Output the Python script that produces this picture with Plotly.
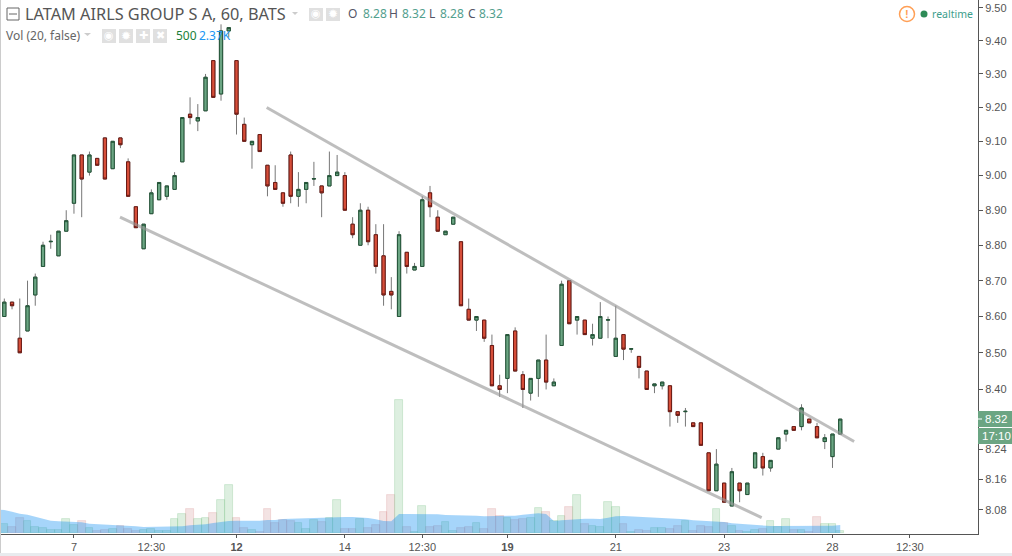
import plotly.graph_objects as go

# ---------- data ----------
opens = [8.60,8.64,8.54,8.56,8.66,8.74,8.81,8.77,8.84,8.92,9.06,9.01,9.05,9.11,9.02,9.11,9.04,8.91,8.79,8.89,
         8.93,8.94,8.96,9.04,9.18,9.16,9.19,9.34,9.24,9.43,9.34,9.15,9.09,9.12,9.03,8.98,8.95,9.06,8.94,8.96,
         8.99,8.97,8.97,9.00,9.00,8.86,8.80,8.90,8.83,8.77,8.67,8.60,8.78,8.73,8.74,8.95,8.88,8.83,8.86,8.81,
         8.62,8.59,8.59,8.52,8.41,8.43,8.56,8.44,8.39,8.43,8.48,8.41,8.52,8.70,8.59,8.59,8.54,8.54,8.59,8.49,
         8.55,8.51,8.49,8.45,8.41,8.41,8.41,8.34,8.34,8.31,8.31,8.23,8.13,8.15,8.09,8.15,8.12,8.19,8.22,8.19,
         8.24,8.28,8.30,8.30,8.32,8.30,8.26,8.22,8.28]
closes = [8.64,8.63,8.50,8.63,8.71,8.80,8.811,8.84,8.87,9.06,8.99,9.06,9.03,8.99,9.10,9.09,8.94,8.85,8.86,8.95,
          8.98,8.97,9.00,9.17,9.17,9.17,9.29,9.23,9.43,9.44,9.18,9.10,9.10,9.07,8.97,8.96,8.92,8.94,8.96,8.98,
          8.991,8.95,9.00,9.01,8.90,8.83,8.90,8.81,8.74,8.66,8.66,8.83,8.74,8.74,8.93,8.91,8.84,8.84,8.88,8.63,
          8.59,8.60,8.54,8.41,8.40,8.55,8.45,8.40,8.43,8.48,8.42,8.42,8.69,8.58,8.60,8.55,8.55,8.60,8.591,8.54,
          8.51,8.511,8.46,8.40,8.415,8.42,8.34,8.33,8.341,8.30,8.25,8.13,8.20,8.10,8.18,8.13,8.15,8.23,8.19,8.21,
          8.27,8.29,8.29,8.35,8.31,8.27,8.27,8.28,8.32]
highs = [8.65,8.64,8.65,8.70,8.72,8.81,8.83,8.84,8.90,9.06,9.06,9.07,9.05,9.11,9.10,9.11,9.05,8.91,8.86,8.96,
         8.98,8.97,9.01,9.17,9.23,9.21,9.30,9.34,9.45,9.44,9.34,9.17,9.10,9.12,9.03,9.03,8.95,9.07,9.01,8.98,
         9.04,8.97,9.07,9.06,9.01,8.88,8.92,8.91,8.86,8.86,8.71,8.84,8.78,8.75,8.94,8.97,8.90,8.84,8.88,8.81,
         8.65,8.60,8.59,8.55,8.44,8.55,8.57,8.45,8.43,8.48,8.55,8.43,8.70,8.70,8.60,8.59,8.58,8.64,8.60,8.63,
         8.55,8.511,8.49,8.45,8.415,8.42,8.41,8.34,8.35,8.31,8.31,8.23,8.24,8.15,8.19,8.15,8.15,8.23,8.23,8.21,
         8.27,8.29,8.30,8.36,8.32,8.31,8.28,8.28,8.32]
lows = [8.60,8.62,8.50,8.56,8.63,8.74,8.79,8.77,8.84,8.89,8.88,9.00,9.03,8.99,9.02,9.08,8.94,8.85,8.79,8.89,
        8.93,8.93,8.96,9.04,9.15,9.13,9.19,9.23,9.22,9.41,9.12,9.10,9.02,9.07,8.94,8.96,8.91,8.92,8.91,8.92,
        8.97,8.88,8.97,9.00,8.90,8.82,8.80,8.80,8.72,8.63,8.62,8.60,8.72,8.73,8.74,8.88,8.84,8.83,8.86,8.63,
        8.59,8.56,8.53,8.41,8.38,8.39,8.45,8.35,8.37,8.38,8.40,8.41,8.52,8.58,8.55,8.55,8.52,8.54,8.54,8.49,
        8.48,8.50,8.43,8.40,8.39,8.40,8.30,8.31,8.30,8.30,8.25,8.13,8.13,8.10,8.09,8.10,8.12,8.19,8.17,8.18,
        8.24,8.26,8.29,8.29,8.31,8.27,8.24,8.19,8.28]
# volume, in thousands
volumes = [2.6,1.7,4.4,3.5,1.7,1.4,0.8,0.8,4.1,2.3,3.5,1.4,0.5,0.8,1.1,2.0,1.1,0.5,0.8,1.1,
           0.5,0.5,4.1,5.6,7.1,4.1,4.4,5.9,9.8,14.3,4.4,1.4,0.8,0.2,7.1,2.9,3.8,3.5,2.9,1.1,
           3.8,3.2,4.4,9.8,1.1,1.1,4.1,1.4,2.3,6.2,11.3,39.9,1.7,0.2,8.0,1.7,2.0,3.2,0.5,1.4,
           1.7,2.9,1.1,7.1,5.0,4.4,3.8,4.1,4.4,7.4,6.2,3.5,5.0,7.7,11.3,2.6,2.0,1.7,9.2,7.7,
           2.6,0.2,0.8,0.5,1.4,1.4,1.1,2.0,3.5,0.5,2.0,1.7,7.1,2.9,2.0,0.5,0.2,0.8,1.1,3.5,
           1.7,4.1,0.8,0.8,0.2,4.7,2.6,2.6,0.5]
# 20-period volume average, in thousands (one reading per bar, plus the left edge)
volume_avg = [7.0,6.9,6.4,5.8,5.5,4.9,4.4,3.7,3.5,3.4,3.4,3.2,2.8,2.7,2.5,2.3,2.3,2.2,2.0,1.8,1.8,
              1.8,1.8,1.9,2.0,2.3,2.4,2.6,3.0,3.4,3.6,3.7,3.7,3.6,3.7,3.9,3.9,4.2,4.3,4.4,4.4,
              4.5,4.6,4.7,4.8,4.8,4.8,4.7,4.5,4.1,3.6,3.5,5.7,5.7,5.7,5.7,5.7,5.6,5.4,5.4,5.4,
              5.4,5.2,5.0,5.0,5.0,5.1,5.2,5.5,5.8,5.9,5.7,3.6,3.8,4.0,4.3,4.3,4.3,4.2,4.6,5.0,
              5.1,5.0,4.9,4.7,4.5,4.4,4.3,4.3,4.1,3.8,3.7,3.5,3.6,3.3,2.9,2.7,2.6,2.5,2.3,2.1,
              2.1,2.1,2.0,2.0,2.0,2.2,2.2,2.2,2.37]
tick_positions = [9,19,30,44,54,65,79,93,107,117]
tick_labels = ["7","12:30","<b>12</b>","14","12:30","<b>19</b>","21","23","28","12:30"]
price_ticks = [9.5,9.4,9.3,9.2,9.1,9.0,8.9,8.8,8.7,8.6,8.5,8.4,8.24,8.16,8.08]
upper_line_x = [33.9,109.8]
upper_line_price = [9.20,8.26]
lower_line_x = [14.95,97.85]
lower_line_price = [8.88,8.06]
ticker = "LATAM AIRLS GROUP S A, 60, BATS"

# ---------- styles ----------
GREEN, GREEN_EDGE = "#6BA583", "#225437"
RED, RED_EDGE = "#D64E39", "#6B1A14"
TXT = "#555555"
BODY_FONT = "Liberation Sans"
HEAD_FONT = "Noto Sans"
index = list(range(len(opens)))
rising = [c >= o for o, c in zip(opens, closes)]

fig = go.Figure()
fig.add_bar(x=index, y=volumes, width=1.0, yaxis="y", showlegend=False, hoverinfo="skip",
            marker=dict(color=["rgba(120,190,130,0.25)" if r else "rgba(190,100,100,0.18)" for r in rising],
                        line=dict(width=0.8, color=["rgba(120,190,130,0.35)" if r else "rgba(200,90,90,0.22)" for r in rising])))
fig.add_scatter(x=[-0.56] + index, y=volume_avg, yaxis="y", mode="lines", fill="tozeroy",
                fillcolor="rgba(33,150,243,0.4)", line=dict(width=0), showlegend=False, hoverinfo="skip")
# wicks
fig.add_candlestick(x=index, open=opens, high=highs, low=lows, close=closes, yaxis="y2", showlegend=False,
                    whiskerwidth=0, hoverinfo="skip",
                    increasing=dict(line=dict(color="#777777", width=1), fillcolor=GREEN),
                    decreasing=dict(line=dict(color="#777777", width=1), fillcolor=RED))
# bodies
fig.add_candlestick(x=index, open=opens, close=closes, yaxis="y2", showlegend=False,
                    high=[max(o, c) for o, c in zip(opens, closes)],
                    low=[min(o, c) for o, c in zip(opens, closes)],
                    whiskerwidth=0,
                    increasing=dict(line=dict(color=GREEN_EDGE, width=1), fillcolor=GREEN),
                    decreasing=dict(line=dict(color=RED_EDGE, width=1), fillcolor=RED))
for xs, ys in ((upper_line_x, upper_line_price), (lower_line_x, lower_line_price)):
    fig.add_scatter(x=xs, y=ys, yaxis="y2", mode="lines", showlegend=False, hoverinfo="skip",
                    line=dict(color="rgba(150,150,150,0.62)", width=3))


# paper coordinates are relative to the 978x534 plot area
def px(x):
    return x / 978


def py(y):
    return 1 - y / 534


def text(x, y, s, size, color, font=HEAD_FONT, anchor="left"):
    return dict(xref="paper", yref="paper", x=px(x), y=py(y), text=s, showarrow=False, xanchor=anchor,
                yanchor="middle", font=dict(size=size, color=color, family=font), borderpad=0, borderwidth=0)


def box(x0, y0, x1, y1, color):
    return dict(type="rect", xref="paper", yref="paper", x0=px(x0), x1=px(x1), y0=py(y1), y1=py(y0),
                fillcolor=color, line=dict(width=0))


def tri(x0, x1, y0, y1):
    xm = (x0 + x1) / 2
    return dict(type="path", xref="paper", yref="paper", fillcolor="#cccccc", line=dict(width=0),
                path=f"M{px(x0)},{py(y0)} L{px(x1)},{py(y0)} L{px(xm)},{py(y1)} Z")


ICON = "#e0e0e0"
shapes = [
    box(0, 0, 1, 553, "#cccccc"),
    box(0, 553, 1012, 556, "#e8ebee"),
    dict(type="rect", xref="paper", yref="paper", x0=px(7), x1=px(19), y0=py(20), y1=py(8),
         line=dict(color="#666666", width=1), fillcolor="rgba(0,0,0,0)"),
    dict(type="line", xref="paper", yref="paper", x0=px(9), x1=px(17), y0=py(14), y1=py(14),
         line=dict(color="#666666", width=1)),
    tri(292, 298, 12, 15), tri(84, 91, 33, 36),
    box(309, 8, 323, 21, ICON), box(326, 8, 340, 21, ICON),
    box(102, 29, 116, 43, ICON), box(119, 29, 133, 43, ICON), box(136, 29, 150, 43, ICON), box(153, 29, 167, 43, ICON),
    dict(type="circle", xref="paper", yref="paper", x0=px(899.5), x1=px(914.5), y0=py(21.5), y1=py(6.5),
         line=dict(color="#FF9F55", width=1.5), fillcolor="white"),
    dict(type="circle", xref="paper", yref="paper", x0=px(920.5), x1=px(927.5), y0=py(17.5), y1=py(10.5),
         line=dict(width=0), fillcolor="#2E8B57"),
    box(978, 411, 1012, 427, GREEN), box(978, 428, 1012, 444, GREEN),
    box(978, 418.5, 982, 419.5, "white"),
]
VAL = "#53A08E"
annotations = [
    text(25, 14, ticker, 16.3, TXT),
    text(6, 35, "Vol (20, false)", 12, "#666666"),
    text(348, 14, "O", 12, "#555566"), text(363, 14, "8.28", 12, VAL),
    text(389, 14, "H", 12, "#555566"), text(402, 14, "8.32", 12, VAL),
    text(429, 14, "L", 12, "#555566"), text(440, 14, "8.28", 12, VAL),
    text(468, 14, "C", 12, "#555566"), text(479, 14, "8.32", 12, VAL),
    text(176, 35, "500", 12, "#1B7F3B"), text(199, 35, "2.37K", 12, "#2196F3"),
    text(316, 14, "◉", 11, "white", "DejaVu Sans", "center"), text(333, 14, "✹", 12, "white", "DejaVu Sans", "center"),
    text(109, 36, "◉", 11, "white", "DejaVu Sans", "center"), text(126, 36, "✹", 12, "white", "DejaVu Sans", "center"),
    text(143, 36, "✚", 11, "white", "DejaVu Sans", "center"), text(160, 36, "✖", 11, "white", "DejaVu Sans", "center"),
    text(907, 14, "<b>!</b>", 11, "#FF9F55", BODY_FONT, "center"),
    text(932, 14, "realtime", 10.5, "#3D9E8C"),
    text(1007, 419, "8.32", 11.5, "white", BODY_FONT, "right"),
    text(1011, 436, "17:10", 11.5, "white", BODY_FONT, "right"),
]

fig.update_layout(
    width=1012, height=556, margin=dict(l=0, r=34, t=0, b=22), autosize=False,
    paper_bgcolor="white", plot_bgcolor="white", showlegend=False, bargap=0, boxgap=0.4,
    font=dict(family=BODY_FONT, size=11, color=TXT),
    xaxis=dict(range=[-0.556, 125.8], tickmode="array", tickvals=tick_positions, ticktext=tick_labels,
               showgrid=False, zeroline=False, showline=True, linecolor=TXT, linewidth=1, ticks="outside",
               ticklen=3, tickcolor=TXT, rangeslider=dict(visible=False), fixedrange=True),
    yaxis=dict(range=[-0.3, 159.9], visible=False, fixedrange=True),
    yaxis2=dict(type="log", overlaying="y", side="right", range=[0.90403, 0.97884], tickmode="array",
                tickvals=price_ticks, ticktext=[f"{v:.2f}" for v in price_ticks], showgrid=False, zeroline=False,
                showline=True, linecolor=TXT, linewidth=1, ticks="outside", ticklen=4, tickcolor=TXT, fixedrange=True),
    shapes=shapes, annotations=annotations,
)
fig.write_html("out.html", config=dict(displayModeBar=False),
               post_script="document.body.style.margin='0';")
